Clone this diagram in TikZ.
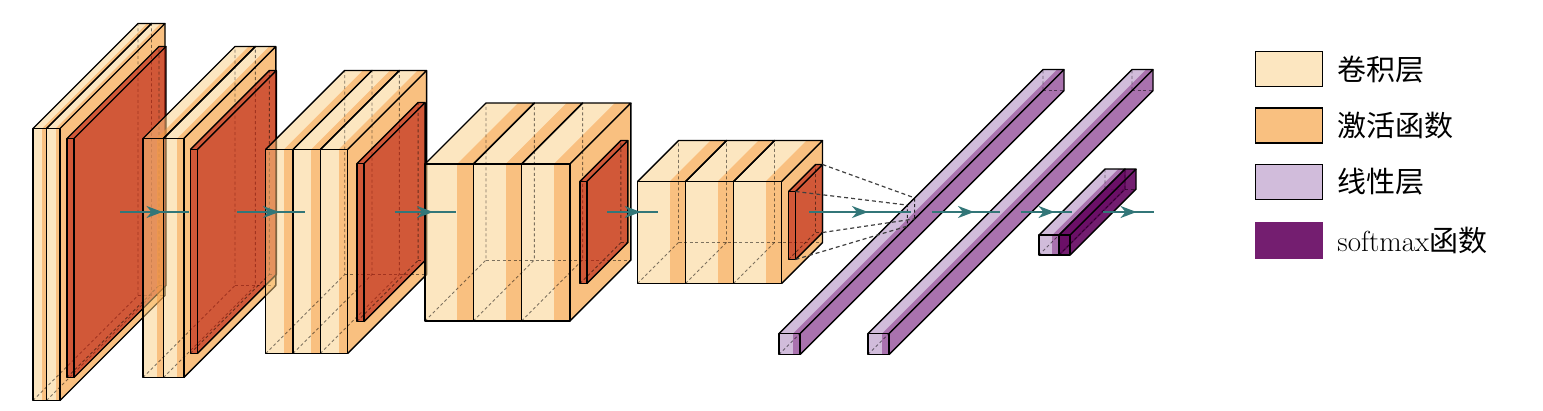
\documentclass[tikz,border=0pt]{standalone}
\usepackage{fontspec}
\newfontfamily\cjk{Noto Sans CJK SC}
\usetikzlibrary{arrows.meta,calc,positioning,decorations.markings}

\definecolor{convcol}{RGB}{250,205,130}
\definecolor{bandcol}{RGB}{246,154,64}
\definecolor{poolcol}{RGB}{185,25,12}
\definecolor{fccol}{RGB}{163,121,183}
\definecolor{fcbandcol}{RGB}{131,42,131}
\definecolor{smcol}{RGB}{100,5,96}
\definecolor{edgecol}{RGB}{50,118,120}
\definecolor{legconv}{RGB}{252,230,192}
\definecolor{legact}{RGB}{249,192,128}
\definecolor{leglin}{RGB}{209,188,219}
\definecolor{legsoft}{RGB}{116,30,112}

% layer box: name, west x, sublayers, sublayer width, height, depth, fill, band
\newcommand{\layerbox}[8]{%
  \pgfmathsetmacro{\yt}{212-#5/2}%
  \pgfmathsetmacro{\yb}{212+#5/2}%
  \pgfmathsetmacro{\zf}{#6/2}%
  \pgfmathsetmacro{\xe}{#2+#3*#4}%
  % faces
  \foreach \i in {1,...,#3}{%
    \pgfmathsetmacro{\xa}{#2+(\i-1)*#4}%
    \pgfmathsetmacro{\xb}{#2+\i*#4}%
    \pgfmathsetmacro{\xc}{\xb-#4/3}%
    \fill[#7] (\xa,\yt,\zf) rectangle (\xb,\yb,\zf);
    \fill[#7] (\xa,\yt,\zf) -- (\xa,\yt,-\zf) -- (\xb,\yt,-\zf) -- (\xb,\yt,\zf) -- cycle;
    \fill[#8] (\xc,\yt,\zf) rectangle (\xb,\yb,\zf);
    \fill[#8] (\xc,\yt,\zf) -- (\xc,\yt,-\zf) -- (\xb,\yt,-\zf) -- (\xb,\yt,\zf) -- cycle;
  }
  \fill[#7] (\xe,\yt,\zf) -- (\xe,\yt,-\zf) -- (\xe,\yb,-\zf) -- (\xe,\yb,\zf) -- cycle;
  \fill[#8] (\xe,\yt,\zf) -- (\xe,\yt,-\zf) -- (\xe,\yb,-\zf) -- (\xe,\yb,\zf) -- cycle;
  % hidden edges
  \foreach \i in {1,...,#3}{%
    \pgfmathsetmacro{\xa}{#2+(\i-1)*#4}%
    \draw[hidden] (\xa,\yb,\zf) -- (\xa,\yb,-\zf) -- (\xa,\yt,-\zf);
  }
  \draw[hidden] (#2,\yb,-\zf) -- (\xe,\yb,-\zf);
  % visible edges
  \foreach \i in {1,...,#3}{%
    \pgfmathsetmacro{\xa}{#2+(\i-1)*#4}%
    \pgfmathsetmacro{\xb}{#2+\i*#4}%
    \draw[edge] (\xa,\yt,\zf) rectangle (\xb,\yb,\zf);
    \draw[edge] (\xa,\yt,\zf) -- (\xa,\yt,-\zf) -- (\xb,\yt,-\zf) -- (\xb,\yt,\zf);
  }
  \draw[edge] (\xe,\yt,-\zf) -- (\xe,\yb,-\zf) -- (\xe,\yb,\zf);
  % anchors
  \coordinate (#1-west) at (#2,212,0);
  \coordinate (#1-east) at (\xe,212,0);
  \coordinate (#1-nearne) at (\xe,\yt,\zf);
  \coordinate (#1-farne) at (\xe,\yt,-\zf);
  \coordinate (#1-farse) at (\xe,\yb,-\zf);
  \coordinate (#1-nearse) at (\xe,\yb,\zf);
}

\begin{document}
\begin{tikzpicture}[x=1pt,y=-1pt,z={(-1pt,-1pt)},
    convfill/.style={fill=convcol,fill opacity=.5},
    convband/.style={fill=bandcol,fill opacity=.5},
    poolfill/.style={fill=poolcol,fill opacity=.62},
    fcfill/.style={fill=fccol,fill opacity=.5},
    fcband/.style={fill=fcbandcol,fill opacity=.5},
    smfill/.style={fill=smcol,fill opacity=.9},
    noband/.style={fill opacity=0},
    edge/.style={draw=black,line width=1.4pt,line join=round},
    hidden/.style={draw=black,opacity=.5,line width=.9pt,dash pattern=on 3pt off 2.5pt},
    link/.style={draw=black!75,line width=1.2pt,dash pattern=on 4pt off 3pt},
    conn/.style={draw=edgecol,line width=2pt,postaction={decorate},
      decoration={markings,mark=at position .5 with
        {\pgftransformxshift{8pt}\arrow{Stealth[length=16pt,width=12pt,inset=5pt]}}}},
    legbox/.style={draw=black,line width=1.4pt,minimum width=67pt,minimum height=35pt,inner sep=0pt},
    legtext/.style={inner sep=0pt,font=\fontsize{29pt}{34pt}\selectfont}]

    \useasboundingbox (0,0) rectangle (1543,410);

    % --- Feature extractor ---
    \layerbox{conv1}{85.5}{2}{13.5}{272}{105}{convfill}{convband}
    \layerbox{pool1}{113}{1}{7}{239}{92}{poolfill}{noband}
    \layerbox{conv2}{189}{2}{20.4}{239}{92}{convfill}{convband}
    \layerbox{pool2}{229.8}{1}{7}{204}{79}{poolfill}{noband}
    \layerbox{conv3}{305.2}{3}{27.3}{204}{79}{convfill}{convband}
    \layerbox{pool3}{387.6}{1}{7}{158}{61}{poolfill}{noband}
    \layerbox{conv4}{455.5}{3}{48.3}{157}{61}{convfill}{convband}
    \layerbox{pool4}{600.4}{1}{7}{102}{41}{poolfill}{noband}
    \layerbox{conv5}{658}{3}{48}{102}{41}{convfill}{convband}
    \layerbox{pool5}{802}{1}{7}{68}{27}{poolfill}{noband}

    % --- Linear layers ---
    \layerbox{fc1}{911}{1}{21}{21}{264}{fcfill}{fcband}

    % --- Receptive field on fc1 ---
    \coordinate (k-nt) at (911,201.5,3.6);
    \coordinate (k-ft) at (911,201.5,-3.6);
    \coordinate (k-fb) at (911,222.5,-3.6);
    \coordinate (k-nb) at (911,222.5,3.6);
    \draw[hidden,opacity=.8] (k-nt) -- (k-ft) -- (k-fb) -- (k-nb) -- cycle;
    \draw[link] (pool5-farne) -- (k-ft);
    \draw[link] (pool5-nearne) -- (k-nt);
    \draw[link] (pool5-farse) -- (k-fb);
    \draw[link] (pool5-nearse) -- (k-nb);

    \layerbox{fc2}{1000}{1}{21}{21}{264}{fcfill}{fcband}
    \layerbox{fc3}{1072}{1}{20}{20}{66}{fcfill}{fcband}
    \layerbox{sm}{1092}{1}{11}{20}{66}{smfill}{noband}

    % --- Connections ---
    \draw[conn] (pool1-east) -- (conv2-west);
    \draw[conn] (pool2-east) -- (conv3-west);
    \draw[conn] (pool3-east) -- (conv4-west);
    \draw[conn] (pool4-east) -- (conv5-west);
    \draw[conn] (pool5-east) -- (fc1-west);
    \draw[conn] (fc1-east) -- (fc2-west);
    \draw[conn] (fc2-east) -- (fc3-west);
    \coordinate (out) at (1154,212);
    \draw[conn] (sm-east) -- (out);

    % --- Legend ---
    \node[legbox,fill=legconv] (key1) at (1289,69.2) {};
    \node[legbox,fill=legact] (key2) at (1289,125.5) {};
    \node[legbox,fill=leglin] (key3) at (1289,182) {};
    \node[legbox,fill=legsoft,draw=legsoft] (key4) at (1289,240.3) {};
    \node[legtext,right=14pt of key1] (lab1) {\cjk 卷积层};
    \node[legtext,right=14pt of key2] (lab2) {\cjk 激活函数};
    \node[legtext,right=14pt of key3] (lab3) {\cjk 线性层};
    \node[legtext,right=14pt of key4] (lab4) {softmax{\cjk 函数}};

\end{tikzpicture}
\end{document}
